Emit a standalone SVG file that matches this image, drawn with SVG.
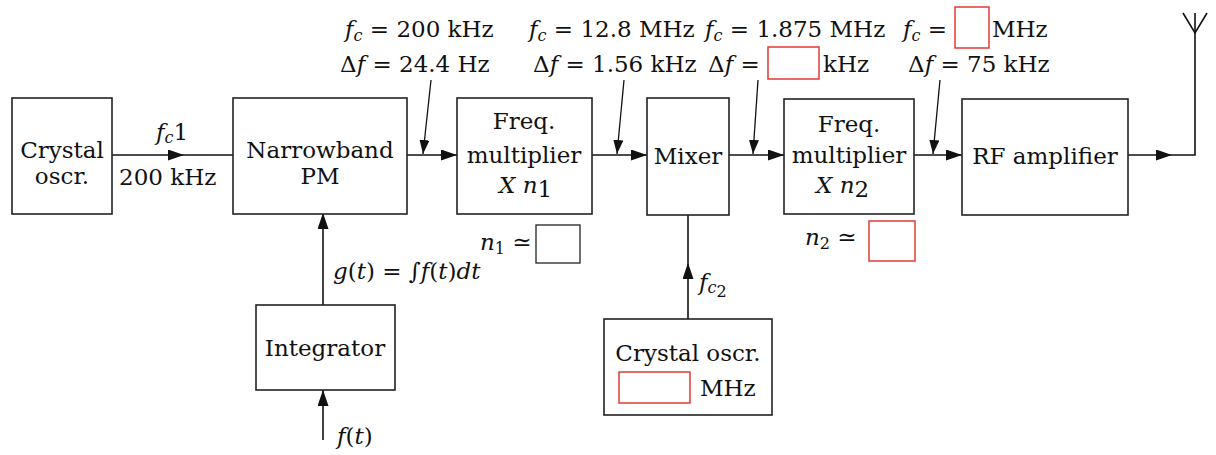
<svg xmlns="http://www.w3.org/2000/svg" width="1216" height="455" viewBox="0 0 1216 455">
<style>
text{font-family:"DejaVu Serif","Liberation Serif",serif;font-size:23px;fill:#111}
.c{text-anchor:middle}
.i{font-style:italic}
.s{font-size:16px}
.box{fill:#fff;stroke:#222;stroke-width:1.6}
.red{fill:#fff;stroke:#e53935;stroke-width:1.5}
.blk{fill:#fff;stroke:#222;stroke-width:1.3}
.ln{fill:none;stroke:#111;stroke-width:1.6}
.pt{fill:none;stroke:#111;stroke-width:1.3}
</style>
<defs>
<marker id="ah" viewBox="0 0 16 11" refX="16" refY="5.5" markerWidth="16" markerHeight="11" markerUnits="userSpaceOnUse" orient="auto"><path d="M0,0 L16,5.5 L0,11 z" fill="#111"/></marker>
<marker id="ahs" viewBox="0 0 14 10" refX="14" refY="5" markerWidth="14" markerHeight="10" markerUnits="userSpaceOnUse" orient="auto"><path d="M0,0 L14,5 L0,10 z" fill="#111"/></marker>
</defs>
<rect width="1216" height="455" fill="#fff"/>

<g id="connectors">
<path class="ln" d="M112,155 L184,155" marker-end="url(#ah)"/>
<path class="ln" d="M184,155 L233,155"/>
<path class="ln" d="M407,155 L457,155" marker-end="url(#ah)"/>
<path class="ln" d="M592,155 L647,155" marker-end="url(#ah)"/>
<path class="ln" d="M729,155 L784,155" marker-end="url(#ah)"/>
<path class="ln" d="M914,155 L962,155" marker-end="url(#ah)"/>
<path class="ln" d="M1128,155 L1172,155" marker-end="url(#ah)"/>
<path class="ln" d="M1172,155 L1195,155 L1195,13"/>
<path class="ln" d="M323,305 L323,213" marker-end="url(#ah)"/>
<path class="ln" d="M323,440 L323,390" marker-end="url(#ah)"/>
<path class="ln" d="M688,319 L688,263" marker-end="url(#ah)"/>
<path class="ln" d="M688,263 L688,215"/>
<path class="pt" d="M431,80 L423,154" marker-end="url(#ahs)"/>
<path class="pt" d="M624,80 L617,154" marker-end="url(#ahs)"/>
<path class="pt" d="M758,80 L753,154" marker-end="url(#ahs)"/>
<path class="pt" d="M940,80 L933,154" marker-end="url(#ahs)"/>
</g>

<g id="antenna">
<path class="ln" d="M1183,13 L1195,33 L1207,13"/>
</g>

<g id="crystal1">
<rect class="box" x="12" y="98" width="100" height="116"/>
<text class="c" x="62" y="158">Crystal</text>
<text class="c" x="62" y="184">oscr.</text>
</g>
<g id="label-fc1">
<text x="156" y="140"><tspan class="i">f</tspan><tspan class="i s" dy="3">c</tspan><tspan dy="-3">1</tspan></text>
<text x="119" y="185">200 kHz</text>
</g>

<g id="nbpm">
<rect class="box" x="233" y="98" width="174" height="116"/>
<text class="c" x="320" y="158">Narrowband</text>
<text class="c" x="320" y="184">PM</text>
</g>

<g id="fm1">
<rect class="box" x="457" y="98" width="135" height="116"/>
<text class="c" x="524" y="129">Freq.</text>
<text class="c" x="524" y="163">multiplier</text>
<text x="499" y="193"><tspan class="i">X n</tspan><tspan dy="4">1</tspan></text>
</g>
<g id="n1-label">
<text x="480" y="250"><tspan class="i">n</tspan><tspan class="s" dy="4">1</tspan><tspan dy="-4"> ≃</tspan></text>
<rect class="blk" x="536" y="225" width="44" height="38"/>
</g>

<g id="mixer">
<rect class="box" x="647" y="98" width="82" height="117"/>
<text class="c" x="688" y="164">Mixer</text>
</g>

<g id="fm2">
<rect class="box" x="784" y="99" width="130" height="115"/>
<text class="c" x="849" y="132">Freq.</text>
<text class="c" x="849" y="163">multiplier</text>
<text x="816" y="193"><tspan class="i">X n</tspan><tspan dy="4">2</tspan></text>
</g>
<g id="n2-label">
<text x="805" y="245"><tspan class="i">n</tspan><tspan class="s" dy="4">2</tspan><tspan dy="-4"> ≃</tspan></text>
<rect class="red" x="869" y="221" width="46" height="40"/>
</g>

<g id="rfamp">
<rect class="box" x="962" y="99" width="166" height="116"/>
<text class="c" x="1045" y="164">RF amplifier</text>
</g>

<g id="integrator">
<rect class="box" x="256" y="305" width="139" height="85"/>
<text class="c" x="325" y="356">Integrator</text>
</g>
<g id="g-label">
<text x="333" y="279"><tspan class="i">g</tspan>(<tspan class="i">t</tspan>) = ∫<tspan class="i">f</tspan>(<tspan class="i">t</tspan>)<tspan class="i">dt</tspan></text>
</g>
<g id="ft-label">
<text x="337" y="444"><tspan class="i">f</tspan>(<tspan class="i">t</tspan>)</text>
</g>

<g id="crystal2">
<rect class="box" x="604" y="319" width="168" height="96"/>
<text class="c" x="688" y="361">Crystal oscr.</text>
<rect class="red" x="619" y="372" width="71" height="31"/>
<text x="700" y="396">MHz</text>
</g>
<g id="fc2-label">
<text x="699" y="290"><tspan class="i">f</tspan><tspan class="i s" dy="3">c</tspan><tspan class="s" dy="4" font-size="12">2</tspan></text>
</g>

<g id="top-labels">
<text x="345" y="37"><tspan class="i">f</tspan><tspan class="i s" dy="4">c</tspan><tspan dy="-4"> = 200 kHz</tspan></text>
<text x="340" y="72">Δ<tspan class="i">f</tspan> = 24.4 Hz</text>
<text x="529" y="37"><tspan class="i">f</tspan><tspan class="i s" dy="4">c</tspan><tspan dy="-4"> = 12.8 MHz</tspan></text>
<text x="533" y="72">Δ<tspan class="i">f</tspan> = 1.56 kHz</text>
<text x="705" y="37"><tspan class="i">f</tspan><tspan class="i s" dy="4">c</tspan><tspan dy="-4"> = 1.875 MHz</tspan></text>
<text x="708" y="72">Δ<tspan class="i">f</tspan> =</text>
<rect class="red" x="768" y="47" width="51" height="32"/>
<text x="823" y="72">kHz</text>
<text x="903" y="37"><tspan class="i">f</tspan><tspan class="i s" dy="4">c</tspan><tspan dy="-4"> =</tspan></text>
<rect class="red" x="955" y="7" width="34" height="41"/>
<text x="992" y="37">MHz</text>
<text x="908" y="72">Δ<tspan class="i">f</tspan> = 75 kHz</text>
</g>
</svg>
